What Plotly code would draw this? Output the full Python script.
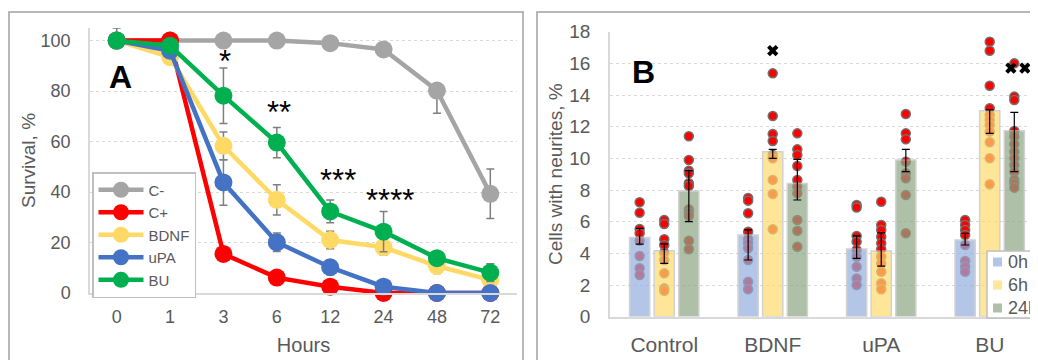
import plotly.graph_objects as go

# page body has an 8px margin: the figure is sized/placed so reference pixels map exactly
OFF = 8
W, H = 1038 - OFF, 360 - OFF

# ---------------- Panel A data ----------------
hours = ['0', '1', '3', '6', '12', '24', '48', '72']
series_names = ['C-', 'C+', 'BDNF', 'uPA', 'BU']
series_colors = ['#a5a5a5', '#ff0000', '#ffd966', '#4472c4', '#00b050']

surv_cminus = [100, 100, 100, 100, 99, 96.5, 80.2, 39.3]
surv_cplus = [100, 100, 15.5, 6.1, 2.5, 0, 0, 0]
surv_bdnf = [100, 93.5, 58.3, 36.9, 21, 18.1, 10.7, 5.2]
surv_upa = [100, 96, 43.8, 20.1, 10.2, 2.5, 0, 0]
surv_bu = [100, 98, 78.2, 59.6, 32.3, 24.3, 13.8, 8.1]

err_cminus_plus = [5, 0, 0, 0, 2, 1.5, 0, 9.8]
err_cminus_minus = [0, 0, 0, 0, 2, 1.5, 9, 9.8]
err_cplus = [0, 0, 0, 0, 0, 0, 0, 0]
err_bdnf = [0, 0, 5.5, 6, 3.5, 3, 3, 2]
err_upa = [0, 0, 9, 3.7, 3, 1, 0, 0]
err_bu = [0, 0, 11, 6, 4.5, 8, 2, 3.5]

star_labels = ['*', '**', '***', '****']
star_hours = ['3', '6', '12', '24']
star_y = [91.8, 71.4, 44.4, 36.6]
star_shift = [2, 2, 8, 6]

# ---------------- Panel B data ----------------
groups = ['Control', 'BDNF', 'uPA', 'BU']
times = ['0h', '6h', '24h']
time_colors = ['#94aedd', '#ffdb6d', '#8ea583']

bar_0h = [5.0, 5.16, 4.28, 4.85]
bar_6h = [4.17, 10.42, 4.15, 13.0]
bar_24h = [7.94, 8.42, 9.9, 11.75]

err_0h_plus = [0.58, 0.32, 0.82, 0.42]
err_0h_minus = [0.41, 1.58, 0.59, 0.32]
err_6h_plus = [0.43, 0.15, 1.15, 0.06]
err_6h_minus = [0.8, 0.42, 0.95, 1.42]
err_24h_plus = [1.28, 1.52, 0.67, 1.16]
err_24h_minus = [1.94, 1.05, 0.74, 2.59]

dots_0h = [
    [7.23, 6.57, 5.54, 5.27, 4.8, 3.83, 3.06, 2.63],
    [7.5, 7.33, 6.53, 5.37, 4.89, 4.64, 4.32, 3.58, 2.21, 1.73],
    [7.05, 6.9, 5.1, 4.74, 4.21, 3.79, 3.16, 2.42, 2.0],
    [6.11, 5.79, 5.48, 5.16, 4.53, 3.52, 3.16, 2.84],
]
dots_6h = [
    [6.11, 5.86, 4.89, 4.53, 4.04, 3.58, 2.74, 1.79, 1.64],
    [15.37, 12.68, 11.54, 11.1, 10.21, 10.0, 8.64, 7.75, 5.52],
    [7.26, 5.79, 5.48, 5.05, 4.64, 4.26, 3.79, 3.37, 2.84, 2.11, 1.73],
    [17.37, 16.8, 14.59, 13.16, 12.74, 12.43, 12.11, 11.69, 11.02, 10.0, 8.36],
]
dots_24h = [
    [11.4, 9.9, 9.22, 9.06, 8.43, 8.26, 6.78, 6.57, 6.36, 4.8, 4.26],
    [11.58, 10.57, 10.21, 9.52, 8.64, 8.21, 7.79, 6.11, 5.43, 4.42],
    [12.8, 11.58, 11.2, 9.79, 9.06, 8.74, 7.69, 5.27],
    [16.0, 13.9, 13.69, 11.73, 11.37, 10.89, 10.42, 10.0, 9.58, 9.16, 8.64, 8.43, 8.15],
]

# significance crosses: group index, time index, extra shift (in bar slots), y
sig_group = [1, 3, 3, 3]
sig_time = [1, 1, 2, 2]
sig_shift = [0.0, 0.0, -0.14, 0.43]
sig_y = [16.8, 18.3, 15.7, 15.7]

# ---------------- layout helpers ----------------
def px_x(p):
    return (p - OFF) / W

def px_y(p):
    return 1 - (p - OFF) / H

BARGAP = 0.32
slot = (1 - BARGAP) / 3
offsets = [-slot, 0.0, slot]
BAR_OPACITY = 0.7

FONT = 'Liberation Sans, Arial, sans-serif'
TICK = '#595959'

fig = go.Figure()

# ---------------- Panel A traces ----------------
surv_all = [surv_cminus, surv_cplus, surv_bdnf, surv_upa, surv_bu]
err_plus_all = [err_cminus_plus, err_cplus, err_bdnf, err_upa, err_bu]
err_minus_all = [err_cminus_minus, err_cplus, err_bdnf, err_upa, err_bu]
for name, col, ys, ep, em in zip(series_names, series_colors, surv_all, err_plus_all, err_minus_all):
    fig.add_trace(go.Scatter(
        x=hours, y=ys, name=name, mode='lines+markers',
        line=dict(color=col, width=4.5),
        marker=dict(color=col, size=18),
        error_y=dict(type='data', symmetric=False, array=ep, arrayminus=em,
                     color='#7f7f7f', thickness=1.5, width=4),
        cliponaxis=False, xaxis='x', yaxis='y'))

# ---------------- Panel B traces ----------------
dots_all = [dots_0h, dots_6h, dots_24h]
for ti, dset in enumerate(dots_all):
    xs, ys = [], []
    for gi, vals in enumerate(dset):
        for v in vals:
            xs.append(gi + offsets[ti])
            ys.append(v)
    fig.add_trace(go.Scatter(
        x=xs, y=ys, mode='markers', showlegend=False,
        marker=dict(color='#ff0000', size=9, line=dict(color='#707070', width=1.5)),
        cliponaxis=False, xaxis='x2', yaxis='y2'))

bars_all = [bar_0h, bar_6h, bar_24h]
bp_all = [err_0h_plus, err_6h_plus, err_24h_plus]
bm_all = [err_0h_minus, err_6h_minus, err_24h_minus]
for ti in range(3):
    fig.add_trace(go.Bar(
        x=list(range(len(groups))), y=bars_all[ti], name=times[ti], showlegend=False,
        marker=dict(color=time_colors[ti], opacity=BAR_OPACITY,
                    line=dict(color='#bfbfbf', width=1.5)),
        error_y=dict(type='data', symmetric=False, array=bp_all[ti], arrayminus=bm_all[ti],
                     color='#000000', thickness=1.2, width=4),
        xaxis='x3', yaxis='y3'))

fig.add_trace(go.Scatter(
    x=[g + offsets[t] + s * slot for g, t, s in zip(sig_group, sig_time, sig_shift)],
    y=sig_y, mode='markers', showlegend=False,
    marker=dict(symbol='x', color='black', size=10, line=dict(width=0)),
    cliponaxis=False, xaxis='x2', yaxis='y2'))

# ---------------- annotations ----------------
ann = []
for lab, hx, yy, sh in zip(star_labels, star_hours, star_y, star_shift):
    ann.append(dict(x=hours.index(hx), y=yy, xref='x', yref='y', text=lab, showarrow=False,
                    xshift=sh, xanchor='center', yanchor='middle',
                    font=dict(size=31, color='black', family=FONT)))
ann.append(dict(x=px_x(120), y=px_y(77), xref='paper', yref='paper', text='<b>A</b>',
                showarrow=False, xanchor='center', yanchor='middle',
                font=dict(size=32, color='black', family=FONT)))
ann.append(dict(x=px_x(643), y=px_y(72), xref='paper', yref='paper', text='<b>B</b>',
                showarrow=False, xanchor='center', yanchor='middle',
                font=dict(size=32, color='black', family=FONT)))

shapes = [
    dict(type='rect', xref='paper', yref='paper', x0=px_x(9), x1=px_x(523), y0=-0.2, y1=px_y(12),
         line=dict(color='#a0a0a0', width=1.5), fillcolor='rgba(0,0,0,0)', layer='below'),
    dict(type='rect', xref='paper', yref='paper', x0=px_x(537), x1=1.2, y0=-0.2, y1=px_y(12),
         line=dict(color='#a0a0a0', width=1.5), fillcolor='rgba(0,0,0,0)', layer='below'),
]

# legend for panel B (box partly cut by the right edge, as in the reference)
LEG_B_ROWS = [262, 285, 308]
shapes.append(dict(type='rect', xref='paper', yref='paper', x0=px_x(987), x1=px_x(1060),
                   y0=px_y(318), y1=px_y(251), line=dict(color='#bfbfbf', width=1.5),
                   fillcolor='white', layer='above'))
for ti, ry in enumerate(LEG_B_ROWS):
    shapes.append(dict(type='rect', xref='paper', yref='paper', x0=px_x(993), x1=px_x(1002),
                       y0=px_y(ry + 4.5), y1=px_y(ry - 4.5), line=dict(width=0),
                       fillcolor=time_colors[ti], opacity=BAR_OPACITY, layer='above'))
    ann.append(dict(x=px_x(1006), y=px_y(ry), xref='paper', yref='paper', text=times[ti],
                    showarrow=False, xanchor='left', yanchor='middle',
                    font=dict(size=18, color=TICK, family=FONT)))

axis_common = dict(showline=True, linecolor='#d9d9d9', linewidth=1.5, ticks='',
                   tickfont=dict(size=18, color=TICK, family=FONT), zeroline=False)

fig.update_layout(
    width=W, height=H, plot_bgcolor='white', paper_bgcolor='white',
    margin=dict(l=0, r=0, t=0, b=0, autoexpand=False),
    font=dict(family=FONT, color=TICK),
    showlegend=True,
    barmode='group', bargap=BARGAP, bargroupgap=0.18,
    xaxis=dict(domain=[px_x(90), px_x(517)], type='category', anchor='y',
               showgrid=False, range=[-0.5, 7.5],
               title=dict(text='Hours', font=dict(size=20, color=TICK), standoff=12),
               ticklabelstandoff=7, **axis_common),
    yaxis=dict(domain=[px_y(293), px_y(28)], range=[0, 105], tickvals=[0, 20, 40, 60, 80, 100],
               anchor='x', showgrid=True, gridcolor='#d9d9d9', griddash='dot', gridwidth=1,
               title=dict(text='Survival, %', font=dict(size=19, color=TICK), standoff=0),
               ticklabelstandoff=14, **axis_common),
    xaxis2=dict(domain=[px_x(610), 1.0], range=[-0.5, 3.445], anchor='y2',
                tickvals=list(range(len(groups))), ticktext=groups, showgrid=False,
                ticklabelstandoff=8,
                **{**axis_common, 'tickfont': dict(size=21, color=TICK, family=FONT)}),
    yaxis2=dict(domain=[px_y(316.7), px_y(31.7)], range=[0, 18], dtick=2, anchor='x2',
                showgrid=True, gridcolor='#d9d9d9', griddash='dot', gridwidth=1,
                title=dict(text='Cells with neurites, %', font=dict(size=19, color=TICK), standoff=2),
                ticklabelstandoff=14,
                **{**axis_common, 'tickfont': dict(size=19, color=TICK, family=FONT)}),
    xaxis3=dict(overlaying='x2', range=[-0.5, 3.445], anchor='y3', visible=False),
    yaxis3=dict(overlaying='y2', range=[0, 18], anchor='x3', visible=False),
    legend=dict(x=px_x(92), y=px_y(172), xanchor='left', yanchor='top', bgcolor='white',
                bordercolor='#bfbfbf', borderwidth=1.5, font=dict(size=15, color=TICK),
                itemwidth=45, tracegroupgap=0),
    annotations=ann, shapes=shapes,
)

fig.write_html('out.html')
